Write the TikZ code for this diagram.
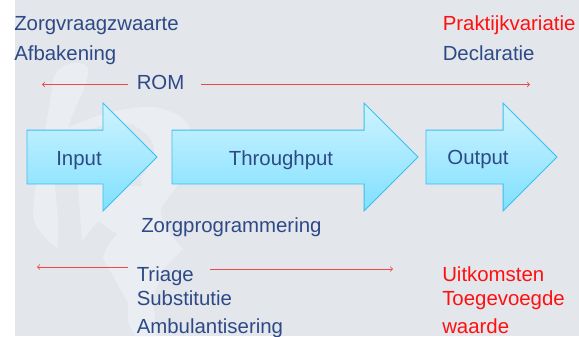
\documentclass[tikz,border=0pt]{standalone}
\usepackage{fontspec}
\setmainfont{Liberation Sans}
\usetikzlibrary{shapes.arrows}
\definecolor{slide}{HTML}{E3E6EB}
\definecolor{ghost}{HTML}{EAEDF2}
\definecolor{ink}{HTML}{2E4A86}
\definecolor{alert}{HTML}{FF1010}
\definecolor{pointer}{HTML}{F04848}
\definecolor{flowedge}{HTML}{38C0F0}
\definecolor{flowtop}{HTML}{CFF3FF}
\definecolor{flowbottom}{HTML}{7FE0FF}
\tikzset{
    word/.style={anchor=base west,inner sep=0pt,text=ink,font=\fontsize{15.3}{18}\selectfont},
    hot word/.style={word,text=alert},
    gap word/.style={word,inner xsep=6.75pt},
    pointer line/.style={draw=pointer,line width=0.6pt,->},
    flow/.style={single arrow,anchor=tail,draw=flowedge,line width=0.6pt,
        top color=flowtop,bottom color=flowbottom,
        text height=39.75pt,text depth=0pt,single arrow head extend=20.25pt,
        single arrow head indent=0pt,inner sep=0pt,outer sep=0pt},
}
\begin{document}
\begin{tikzpicture}[x=0.75pt,y=-0.75pt]
    \useasboundingbox (0,0) rectangle (579,336);
    %background
    \fill[slide] (15,0) rectangle (579,336);
    %watermark
    \fill[ghost] (53,80) .. controls (55,65) and (80,58) .. (88,67)
        .. controls (90,85) and (72,110) .. (68,128)
        .. controls (100,112) and (135,106) .. (153,107)
        .. controls (175,110) and (190,120) .. (192,135)
        .. controls (198,160) and (190,175) .. (177,186)
        -- (162,206) .. controls (158,215) and (165,230) .. (183,249)
        -- (163,269) -- (153,300) -- (157,336) -- (135,336) -- (128,322) -- (128,303)
        -- (103,258) .. controls (105,248) and (112,240) .. (117,234)
        -- (98,221) -- (82,241) -- (78,186) -- (68,128)
        -- (55,186) -- (58,219) -- (58,249)
        .. controls (45,238) and (33,228) .. (33,213)
        .. controls (33,190) and (50,110) .. (53,80) -- cycle;
    \fill[slide] (75,135) .. controls (100,125) and (120,120) .. (133,125)
        .. controls (150,135) and (160,145) .. (150,165)
        -- (141,177) -- (142,186) -- (110,186) -- cycle;
    %arrows
    \node[flow,minimum height=97.5pt] (input) at (27,157) {};
    \node[flow,minimum height=184.5pt] (throughput) at (172,157) {};
    \node[flow,minimum height=98.25pt] (output) at (426,157) {};
    \node[word,anchor=base] (inputtext) at (79,165) {Input};
    \node[word,anchor=base] (throughputtext) at (281,165) {Throughput};
    \node[word,anchor=base] (outputtext) at (478,164) {Output};
    %upper texts
    \node[word] (vraag) at (14,30.5) {Zorgvraagzwaarte};
    \node[word] (afbakening) at (14,60) {Afbakening};
    \node[hot word] (variatie) at (442.5,30.5) {Praktijkvariatie};
    \node[word] (declaratie) at (442.5,60) {Declaratie};
    \node[gap word] (rom) at (127.5,89) {ROM};
    \coordinate (romleft) at (42,84.5);
    \coordinate (romright) at (530,84.5);
    \draw[pointer line,shorten <=-0.4pt] (rom.west |- romleft) -- (romleft);
    \draw[pointer line,shorten <=5.2pt] (rom.east |- romright) -- (romright);
    %lower texts
    \node[word] (programmering) at (141,232) {Zorgprogrammering};
    \node[gap word] (triage) at (127.5,281) {Triage};
    \node[word] (substitutie) at (136.5,305) {Substitutie};
    \node[word] (ambulant) at (136.5,333) {Ambulantisering};
    \node[hot word] (uitkomsten) at (442,281) {Uitkomsten};
    \node[hot word] (toegevoegde) at (442,305) {Toegevoegde};
    \node[hot word] (waarde) at (442,333) {waarde};
    \coordinate (triageleft) at (37,267);
    \coordinate (triageright) at (393,269);
    \draw[pointer line,shorten <=-0.4pt] (triage.west |- triageleft) -- (triageleft);
    \draw[pointer line,shorten <=5pt] (triage.east |- triageright) -- (triageright);
\end{tikzpicture}
\end{document}
